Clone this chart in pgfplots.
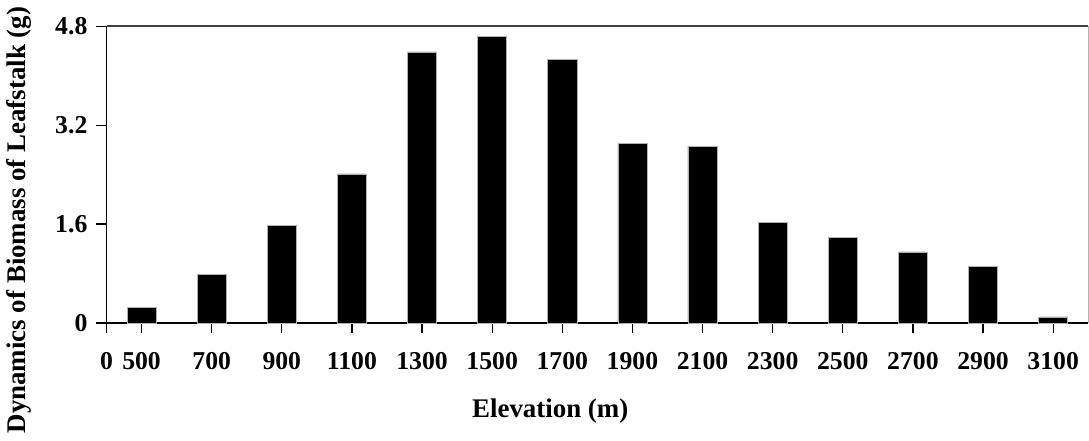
\documentclass[border=0pt]{standalone}
\usepackage{pgfplots}
\pgfplotsset{compat=1.18}
\usepackage{fontspec}
\setmainfont{Liberation Serif}
\begin{document}
\begin{tikzpicture}
\begin{axis}[
  scale only axis,
  width=489pt, height=147.85pt,
  xmin=0, xmax=14, ymin=0, ymax=4.8,
  axis x line*=bottom, axis y line*=left,
  axis line style={line width=0.6pt, black},
  tick align=outside, tick pos=left,
  major tick length=5pt,
  tick style={line width=0.6pt, black},
  xtick={0,0.5,1.5,2.5,3.5,4.5,5.5,6.5,7.5,8.5,9.5,10.5,11.5,12.5,13.5},
  xticklabels={0,500,700,900,1100,1300,1500,1700,1900,2100,2300,2500,2700,2900,3100},
  ytick={0,1.6,3.2,4.8},
  yticklabels={0,1.6,3.2,4.8},
  ticklabel style={font=\fontsize{12.8}{14}\selectfont\bfseries},
  xticklabel style={anchor=center, yshift=-14pt},
  yticklabel style={anchor=east, xshift=-1pt},
  xlabel={Elevation (m)},
  ylabel={Dynamics of Biomass of Leafstalk (g)},
  xlabel style={font=\fontsize{13.4}{15}\selectfont\bfseries, at={(axis description cs:0.452,-0.295)}, anchor=center},
  ylabel style={font=\fontsize{13.4}{15}\selectfont\bfseries, at={(axis description cs:-0.089,0.347)}, anchor=center, rotate=0},
  clip=false,
]
\addplot[ybar, bar width=14.5pt, fill=black, draw=gray!60, line width=0.3pt] coordinates {
(0.5,0.25) (1.5,0.785) (2.5,1.58) (3.5,2.41) (4.5,4.385) (5.5,4.63) (6.5,4.26)
(7.5,2.91) (8.5,2.86) (9.5,1.63) (10.5,1.38) (11.5,1.15) (12.5,0.91) (13.5,0.10)
};
\draw[line width=0.8pt, black!75] (rel axis cs:0,1) -- (rel axis cs:1,1);
\draw[line width=0.4pt, black!30] (rel axis cs:1,0) -- (rel axis cs:1,1);
\draw[line width=0.6pt, black] (rel axis cs:0,1) -- ++(-5pt,0);
\end{axis}
\end{tikzpicture}
\end{document}
